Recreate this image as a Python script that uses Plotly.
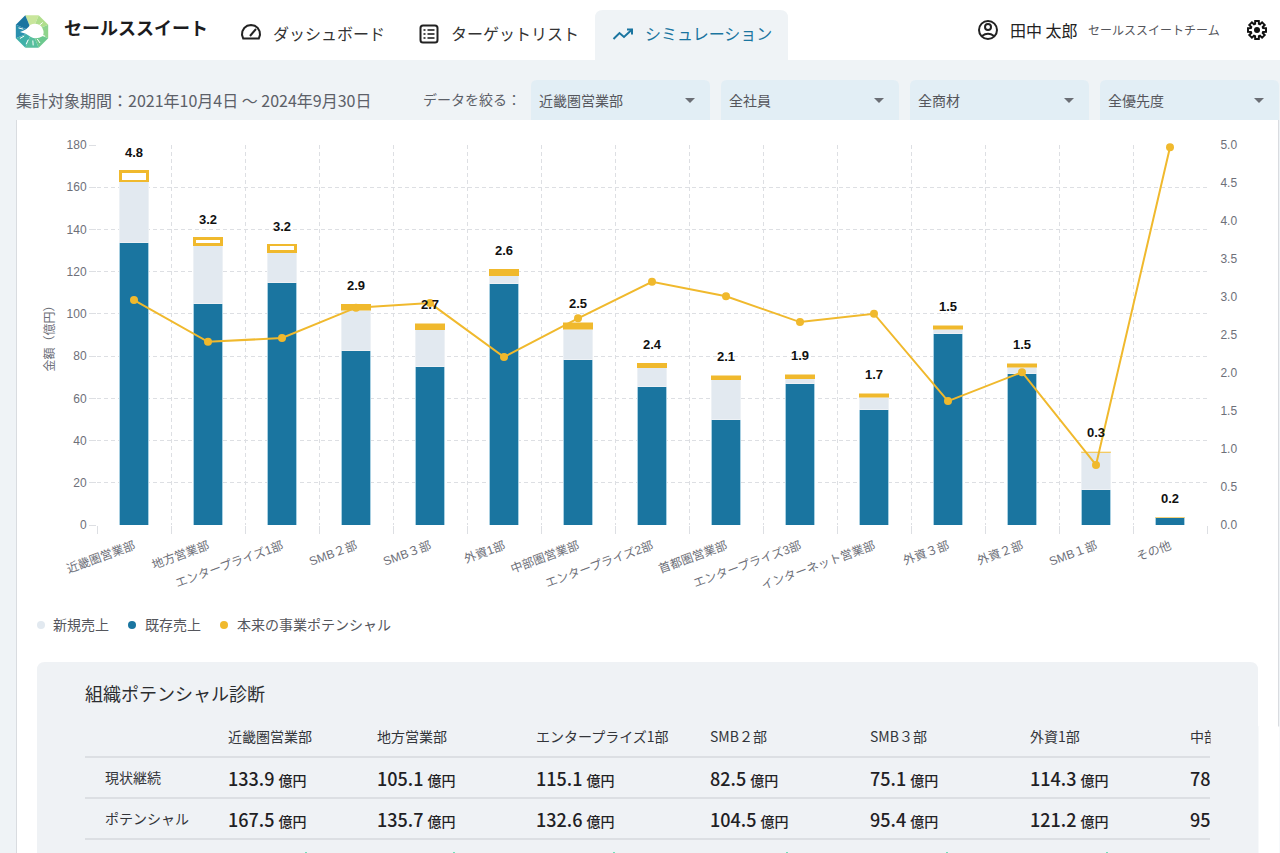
import math
import re
import plotly.graph_objects as go

W, H = 1280, 853

# ---------- data ----------
categories = ["近畿圏営業部", "地方営業部", "エンタープライズ1部", "SMB２部", "SMB３部", "外資1部", "中部圏営業部",
              "エンタープライズ2部", "首都圏営業部", "エンタープライズ3部", "インターネット営業部", "外資３部", "外資２部",
              "SMB１部", "その他"]
existing_sales = [133.9, 105.1, 115.1, 82.5, 75.1, 114.3, 78.2, 65.8, 50.2, 66.8, 54.5, 90.5, 72.0, 17.0, 3.4]
new_sales = [29.0, 27.8, 14.5, 19.2, 17.5, 3.8, 14.6, 8.6, 18.7, 2.4, 6.0, 2.3, 2.8, 17.3, 0.1]
potential_gap = [4.6, 2.8, 3.0, 2.8, 2.8, 3.1, 2.9, 2.3, 1.8, 2.0, 1.6, 1.5, 1.7, 0.3, 0.1]
potential_ratio = [2.96, 2.41, 2.46, 2.86, 2.92, 2.21, 2.72, 3.20, 3.01, 2.67, 2.78, 1.63, 2.01, 0.79, 4.97]
top_labels = ["4.8", "3.2", "3.2", "2.9", "2.7", "2.6", "2.5", "2.4", "2.1", "1.9", "1.7", "1.5", "1.5", "0.3", "0.2"]
left_ticks = [0, 20, 40, 60, 80, 100, 120, 140, 160, 180]
right_ticks = [0, 0.5, 1, 1.5, 2, 2.5, 3, 3.5, 4, 4.5, 5]
series_names = ["新規売上", "既存売上", "本来の事業ポテンシャル"]
filter_labels = ["近畿圏営業部", "全社員", "全商材", "全優先度"]
table_headers = ["近畿圏営業部", "地方営業部", "エンタープライズ1部", "SMB２部", "SMB３部", "外資1部", "中部圏営業部"]
table_current = ["133.9", "105.1", "115.1", "82.5", "75.1", "114.3", "78.2"]
table_potential = ["167.5", "135.7", "132.6", "104.5", "95.4", "121.2", "95.6"]

# ---------- style ----------
BLUE = "#1a75a0"
PALE = "#e2e9f0"
GOLD = "#f0b92d"
BG = "#eff3f6"
CARD = "#eff2f5"
GRAY = "#6e7079"
TEXT = "#222427"
JP = "Noto Sans CJK JP"
CHART = "Liberation Sans, Noto Sans CJK JP"

px = lambda x: x / W
py = lambda y: 1 - y / H

annotations = []
shapes = []


def text(x, y, s, size=14, color=TEXT, anchor="left", weight=400, family=JP, **kw):
    annotations.append(dict(x=px(x - 1), y=py(y - 1), xref="paper", yref="paper", text=s, showarrow=False,
                            xanchor=anchor, yanchor="middle", borderpad=0,
                            font=dict(size=size, color=color, family=family, weight=weight), **kw))


def path(d, fill=None, line=None, width=0, layer="below"):
    """Path given in screen pixels; converted to paper coordinates."""
    out, is_x = [], True
    for tok in re.findall(r"[MLQCZ]|-?\d+\.?\d*", d):
        if tok in "MLQCZ":
            out.append(tok)
        else:
            out.append(f"{px(float(tok)) if is_x else py(float(tok)):.6f}")
            is_x = not is_x
    shapes.append(dict(type="path", xref="paper", yref="paper", path=" ".join(out), layer=layer,
                       fillcolor=fill or "rgba(0,0,0,0)",
                       line=dict(color=line or "rgba(0,0,0,0)", width=width)))


def rrect(x0, y0, x1, y1, r, fill, bottom=True):
    rb = r if bottom else 0
    path(f"M{x0} {y0 + r} Q{x0} {y0} {x0 + r} {y0} L{x1 - r} {y0} Q{x1} {y0} {x1} {y0 + r} "
         f"L{x1} {y1 - rb} Q{x1} {y1} {x1 - rb} {y1} L{x0 + rb} {y1} Q{x0} {y1} {x0} {y1 - rb} Z", fill=fill)


def rect(x0, y0, x1, y1, fill):
    path(f"M{x0} {y0} L{x1} {y0} L{x1} {y1} L{x0} {y1} Z", fill=fill)


def circle(cx, cy, r, fill=None, line=None, width=0):
    shapes.append(dict(type="circle", xref="paper", yref="paper", layer="below",
                       x0=px(cx - r), x1=px(cx + r), y0=py(cy + r), y1=py(cy - r),
                       fillcolor=fill or "rgba(0,0,0,0)",
                       line=dict(color=line or "rgba(0,0,0,0)", width=width)))


# ---------- page chrome ----------
rect(0, 0, W, 60, "#ffffff")
rrect(595, 10, 788, 60, 8, BG, bottom=False)
rect(16, 120, 1278, H, "#ffffff")
rect(16, 120, 17, H, "#d9dce0")
rect(1278, 120, 1279, H, "#d9dce0")
rrect(37, 662, 1258, H + 20, 8, CARD)

# logo: octagon wedges around a pale centre
cx, cy, R = 32, 31.5, 17.5
logo_cols = ["#c9e69c", "#b0de8c", "#8fd48c", "#6cc88e", "#58bf9e", "#3fb0a8", "#2a90ae", "#1a75a0"]
for i, col in enumerate(logo_cols):
    a0 = math.radians(-112.5 + 45 * i)
    a1 = math.radians(-67.5 + 45 * i)
    path(f"M{cx:.2f} {cy:.2f} L{cx + R * math.cos(a0):.2f} {cy + R * math.sin(a0):.2f} "
         f"L{cx + R * math.cos(a1):.2f} {cy + R * math.sin(a1):.2f} Z", fill=col)
path("M20 32 Q27 30 30 25 Q36 22 41 26 Q45 31 43 36 Q36 40 31 37 Q26 33 20 32 Z", fill="#ffffff")
for deg in (20, 55, 85, 115, 150, 195, 320):
    a = math.radians(deg)
    path(f"M{cx + 9 * math.cos(a):.1f} {cy + 9 * math.sin(a):.1f} "
         f"L{cx + 14 * math.cos(a):.1f} {cy + 14 * math.sin(a):.1f}", line="#ffffff", width=1)

# tab icons
t = [(251 + 9 * math.cos(math.radians(a)), 34 + 9 * math.sin(math.radians(a))) for a in range(150, 391, 24)]
path("M" + " L".join(f"{a:.1f} {b:.1f}" for a, b in t) + " Z", line="#222222", width=2)
path("M250 36 L256 29", line="#222222", width=2)
path("M423 25.5 L435 25.5 Q437.5 25.5 437.5 28 L437.5 40 Q437.5 42.5 435 42.5 L423 42.5 Q420.5 42.5 420.5 40 "
     "L420.5 28 Q420.5 25.5 423 25.5 Z", line="#222222", width=2)
for yy in (30, 34, 38):
    path(f"M423.5 {yy} L425.5 {yy}", line="#222222", width=1.6)
    path(f"M427.5 {yy} L434.5 {yy}", line="#222222", width=1.6)
path("M613.5 39 L619.5 33 L624 37 L632 29.5", line=BLUE, width=2)
path("M627 29.5 L632 29.5 L632 34.5", line=BLUE, width=2)

# user icon
circle(988, 30, 9, line="#222222", width=2)
circle(988, 27, 3, line="#222222", width=2)
path("M982 36 Q988 31.5 994 36", line="#222222", width=2)

# gear icon
gear = []
for i in range(8):
    a = i * math.pi / 4 - math.pi / 2
    for da, r in ((-0.30, 6.4), (-0.20, 9.2), (0.20, 9.2), (0.30, 6.4)):
        gear.append((1257 + r * math.cos(a + da), 30 + r * math.sin(a + da)))
path("M" + " L".join(f"{a:.1f} {b:.1f}" for a, b in gear) + " Z", line="#111111", width=2)
circle(1257, 30, 3, fill="#111111")

# header text
text(64, 28, "セールススイート", 18, "#1c1c1e", weight=700)
text(273, 34, "ダッシュボード", 16, "#333333")
text(451, 34, "ターゲットリスト", 16, "#333333")
text(645, 34, "シミュレーション", 16, BLUE)
text(1010, 31, "田中 太郎", 16, "#222222")
text(1088, 30, "セールススイートチーム", 12, "#55565c")

# filter bar
text(16, 101, "集計対象期間：2021年10月4日 〜 2024年9月30日", 16, "#5c6068")
text(423, 100, "データを絞る：", 14, "#5c6068")
pill_x = [(531, 710), (721, 899), (910, 1089), (1100, 1279)]
for (x0, x1), lab in zip(pill_x, filter_labels):
    rrect(x0, 80, x1, 120, 6, "#e2eef5", bottom=False)
    text(x0 + 8, 101, lab, 14, "#55565c")
    path(f"M{x1 - 25} 98 L{x1 - 15} 98 L{x1 - 20} 103 Z", fill="#6b6e75")

# y axis title
text(50.5, 337, "金額（億円）", 12, GRAY, anchor="center", family=CHART, textangle=-90)

# legend
legend_pos = [(41, 53), (132, 145), (224, 237)]
legend_cols = [PALE, BLUE, GOLD]
for (dot, lab), col, name in zip(legend_pos, legend_cols, series_names):
    circle(dot, 625, 4, fill=col)
    text(lab, 625.5, name, 14, "#55565c", family=CHART)

# ---------- table ----------
text(85, 694, "組織ポテンシャル診断", 18, "#2b2d30")
col_x = [228, 377, 536, 710, 870, 1030, 1190]
for yy in (757, 798, 839):
    rect(85, yy - 0.5, 1210, yy + 0.5, "#c9ccd1")
text(105, 778, "現状継続", 14, "#33353a")
text(105, 819, "ポテンシャル", 14, "#33353a")
unit = ' <span style="font-size:14px">億円</span>'
for x, h, cur, pot in zip(col_x, table_headers, table_current, table_potential):
    text(x, 737, h, 14, "#33353a")
    text(x, 779, cur + unit, 18, "#1f2124", weight=500)
    text(x, 820, pot + unit, 18, "#1f2124", weight=500)
# the table scrolls horizontally: it is cut off at the right edge of its scroll area
annotations.append(dict(x=px(1210), y=py(726), xref="paper", yref="paper", text="\u00a0", showarrow=False,
                        xanchor="left", yanchor="top", width=48, height=127, bgcolor=CARD, borderpad=0))
annotations.append(dict(x=px(1258), y=py(726), xref="paper", yref="paper", text="\u00a0", showarrow=False,
                        xanchor="left", yanchor="top", width=20, height=127, bgcolor="#ffffff", borderpad=0))
for mx in (306, 454, 614, 787, 947, 1107):
    rect(mx - 0.7, 852, mx + 0.7, H, "#3ed6a0")

# ---------- chart ----------
n_open = 3  # the first departments show an open potential box, the rest are thin enough to read as solid
gap_fill = ["#ffffff" if i < n_open else GOLD for i in range(len(categories))]
gap_line_w = [2.6 if i < n_open else 0.5 for i in range(len(categories))]
gap_line_c = [GOLD if i < 13 else "#f5dc9a" for i in range(len(categories))]
gap_width = [0.37 if i < n_open else 0.4 for i in range(len(categories))]

fig = go.Figure()
fig.add_bar(x=categories, y=existing_sales, name=series_names[1],
            marker=dict(color=BLUE, line=dict(color="#a9d0e2", width=1)))
fig.add_bar(x=categories, y=new_sales, name=series_names[0],
            marker=dict(color=PALE, line=dict(color="#edf1f5", width=1)))
fig.add_bar(x=categories, y=potential_gap, name=series_names[2], width=gap_width,
            marker=dict(color=gap_fill, line=dict(color=gap_line_c, width=gap_line_w)))
fig.add_scatter(x=categories, y=potential_ratio, yaxis="y2", name=series_names[2], mode="lines+markers",
                line=dict(color=GOLD, width=2), marker=dict(color=GOLD, size=8), cliponaxis=False)

for c, e, n, g, lab in zip(categories, existing_sales, new_sales, potential_gap, top_labels):
    annotations.append(dict(x=c, y=e + n + g, xref="x", yref="y", text=lab, showarrow=False, yshift=19,
                            xanchor="center", yanchor="middle",
                            font=dict(size=13, color="#111111", family=CHART, weight=700)))

GRID = "#dddfe3"
fig.update_layout(
    width=W, height=H, autosize=False,
    margin=dict(l=0, r=0, t=0, b=0, pad=0),
    paper_bgcolor=BG, plot_bgcolor="rgba(0,0,0,0)",
    barmode="stack", bargap=0.6, showlegend=False,
    font=dict(family=CHART, size=12, color=GRAY),
    xaxis=dict(domain=[px(97), px(1207)], type="category", categoryorder="array", categoryarray=categories,
               range=[-0.5, 14.5], tickson="boundaries", ticks="outside", ticklen=8, tickcolor=GRID, tickwidth=1,
               showgrid=True, gridcolor=GRID, griddash="4px,3px", gridwidth=1, showline=False, zeroline=False,
               tickangle=-20, ticklabelstandoff=11, tickfont=dict(size=12, color=GRAY, family=CHART),
               automargin=False),
    yaxis=dict(domain=[py(525), py(145)], range=[0, 180], tickvals=left_ticks, ticks="outside", ticklen=7,
               tickcolor=GRID, showgrid=True, gridcolor=GRID, griddash="4px,3px", gridwidth=1, zeroline=False,
               showline=False, tickfont=dict(size=12, color=GRAY, family=CHART), automargin=False),
    yaxis2=dict(overlaying="y", side="right", anchor="x", range=[0, 5], tickvals=right_ticks, tickformat=".1f",
                ticks="outside", ticklen=10, tickcolor="rgba(0,0,0,0)", showgrid=False, zeroline=False,
                showline=False, tickfont=dict(size=12, color=GRAY, family=CHART), automargin=False),
    shapes=shapes,
    annotations=annotations,
)

fig.write_html("out.html", config=dict(displayModeBar=False),
               post_script="document.body.style.margin='0';document.body.style.background='%s';" % BG)
